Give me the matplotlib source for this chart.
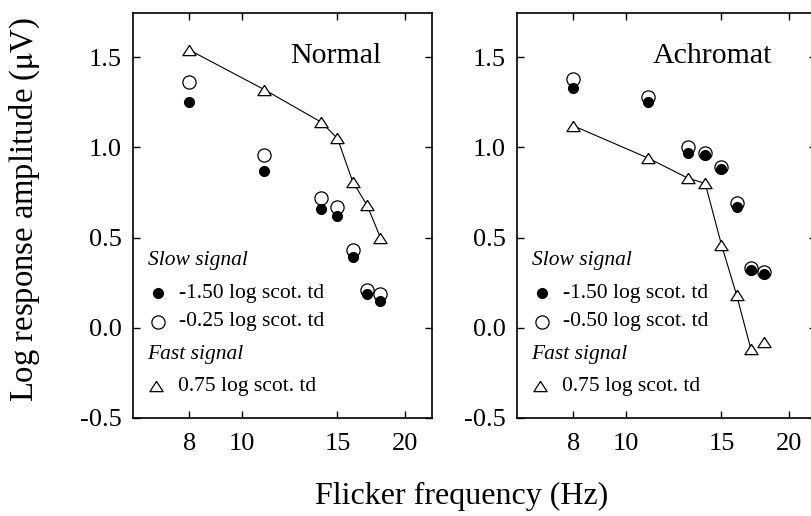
import numpy as np
import matplotlib
matplotlib.use("Agg")
import matplotlib.pyplot as plt

# flicker frequencies (Hz)
freq = [8, 11, 14, 15, 16, 17, 18]
freq_achro = [8, 11, 13, 14, 15, 16, 17, 18]

# Normal observer
normal_dim = [1.25, 0.87, 0.66, 0.62, 0.39, 0.19, 0.15]      # -1.50 log scot. td
normal_bright = [1.36, 0.96, 0.72, 0.67, 0.43, 0.21, 0.19]   # -0.25 log scot. td
normal_fast = [1.54, 1.32, 1.14, 1.05, 0.81, 0.68, 0.50]     # 0.75 log scot. td

# Achromat
achro_dim = [1.33, 1.25, 0.97, 0.96, 0.88, 0.67, 0.32, 0.30]
achro_bright = [1.38, 1.28, 1.00, 0.97, 0.89, 0.69, 0.33, 0.31]
achro_fast = [1.12, 0.94, 0.83, 0.80, 0.46, 0.18, -0.12, -0.08]
achro_fast_joined = 7   # last point is not joined by the line

xticks = [8, 10, 15, 20]
yticks = [-0.5, 0.0, 0.5, 1.0, 1.5]

plt.rcParams['font.family'] = ['Liberation Serif', 'DejaVu Serif']
plt.rcParams['mathtext.fontset'] = 'stix'

tri = [(0, 0.78), (-1, -0.78), (1, -0.78), (0, 0.78)]

fig = plt.figure(figsize=(8.12, 5.16), dpi=100)
ax1 = fig.add_axes([133/812, 1 - 418/516, 299/812, 405/516])
ax2 = fig.add_axes([517/812, 1 - 418/516, 299/812, 405/516])


def draw_panel(ax, f, dim, bright, fast, nline, title, title_x, lab_bright):
    ax.plot(f[:nline], fast[:nline], '-', color='black', lw=0.8, zorder=2)
    ax.plot(f, fast, linestyle='none', marker=tri, ms=9.5, mfc='white',
            mec='black', mew=0.9, zorder=3)
    ax.plot(f, bright, linestyle='none', marker='o', ms=9.5, mfc='white',
            mec='black', mew=0.9, zorder=4)
    ax.plot(f, dim, linestyle='none', marker='o', ms=7, mfc='black',
            mec='black', zorder=5)
    ax.set_xscale('log')
    ax.set_xlim(6.3, 22.4)
    ax.set_ylim(-0.5, 1.745)
    ax.set_xticks(xticks)
    ax.set_xticklabels([str(t) for t in xticks])
    ax.xaxis.set_minor_locator(matplotlib.ticker.NullLocator())
    ax.set_yticks(yticks)
    ax.set_yticklabels(['%.1f' % t for t in yticks])
    ax.tick_params(direction='in', top=True, right=True, length=5, width=1,
                   labelsize=19)
    ax.tick_params(axis='x', pad=11)
    ax.tick_params(axis='y', pad=8)
    for s in ax.spines.values():
        s.set_linewidth(1.2)
    ax.text(title_x, 0.895, title, transform=ax.transAxes, fontsize=21.5,
            va='center', ha='left')
    # legend
    ax.text(0.05, 0.39, 'Slow signal', style='italic', fontsize=15.5,
            transform=ax.transAxes, va='center')
    ax.plot([0.083], [0.308], 'o', ms=7, color='black', transform=ax.transAxes)
    ax.text(0.155, 0.308, '-1.50 log scot. td', fontsize=15.5,
            transform=ax.transAxes, va='center')
    ax.plot([0.083], [0.238], 'o', ms=9.5, mfc='white', mec='black', mew=0.9,
            transform=ax.transAxes)
    ax.text(0.155, 0.238, lab_bright, fontsize=15.5,
            transform=ax.transAxes, va='center')
    ax.text(0.047, 0.158, 'Fast signal', style='italic', fontsize=15.5,
            transform=ax.transAxes, va='center')
    ax.plot([0.078], [0.079], linestyle='none', marker=tri, ms=9.5, mfc='white',
            mec='black', mew=0.9, transform=ax.transAxes)
    ax.text(0.15, 0.079, '0.75 log scot. td', fontsize=15.5,
            transform=ax.transAxes, va='center')


draw_panel(ax1, freq, normal_dim, normal_bright, normal_fast, len(freq),
           'Normal', 0.525, '-0.25 log scot. td')
draw_panel(ax2, freq_achro, achro_dim, achro_bright, achro_fast,
           achro_fast_joined, 'Achromat', 0.455, '-0.50 log scot. td')

fig.text(0.569, 0.037, 'Flicker frequency (Hz)', fontsize=23,
         ha='center', va='center')
fig.text(0.03, 0.593, r'Log response amplitude ($\mathrm{\mu}$V)', fontsize=23.5,
         rotation=90, ha='center', va='center')

fig.savefig('out.png', dpi=100)
